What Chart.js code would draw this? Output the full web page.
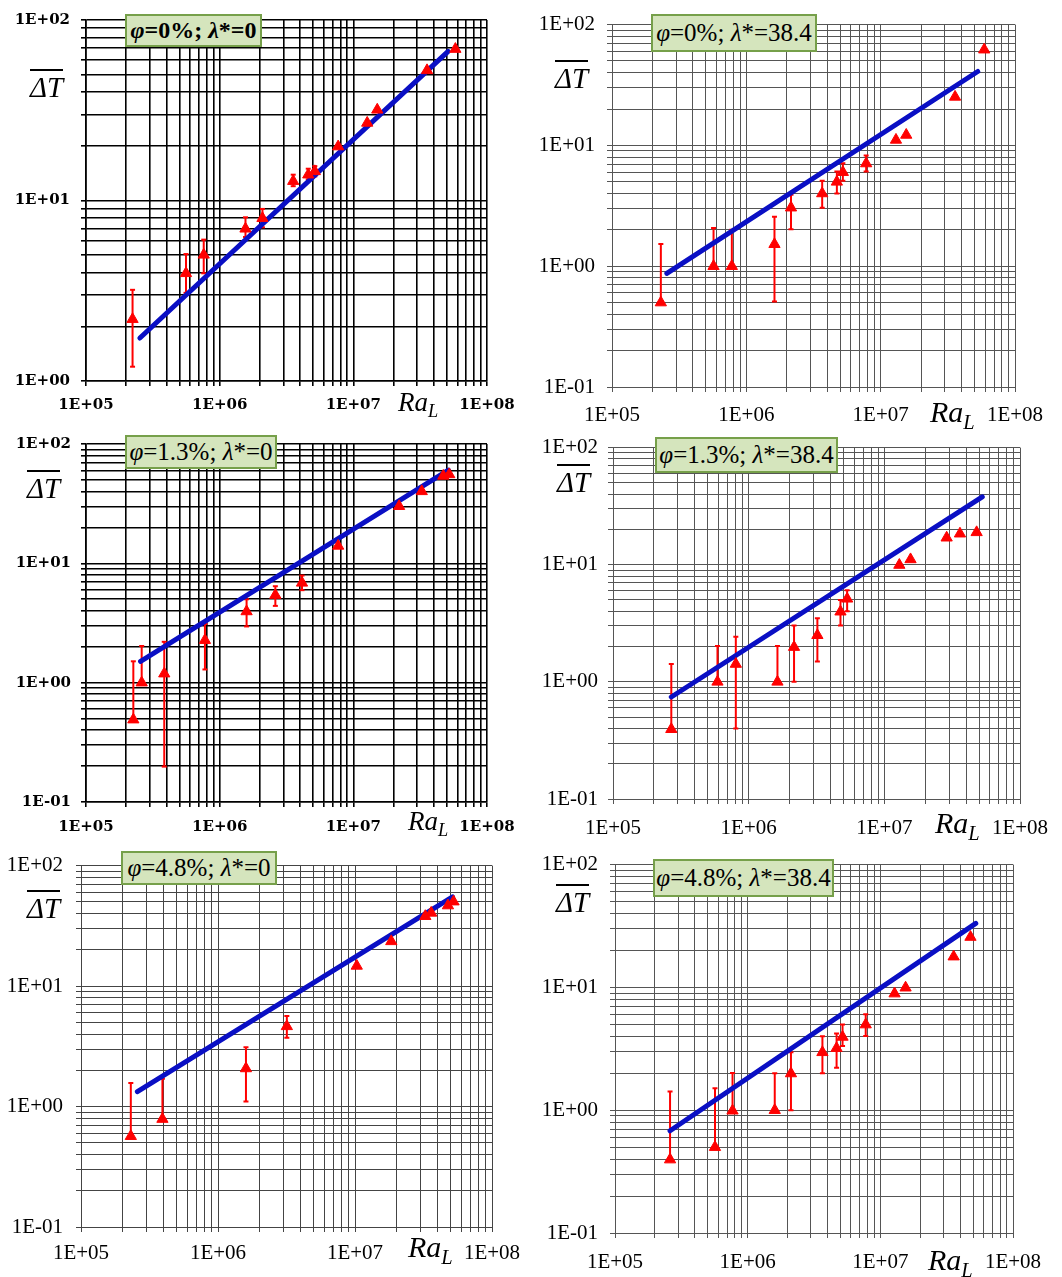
<!DOCTYPE html>
<html>
<head>
<meta charset="utf-8">
<title>Mean temperature difference vs Ra_L</title>
<script src="https://cdn.jsdelivr.net/npm/chart.js@4.4.1/dist/chart.umd.min.js"></script>
<style>
    body { margin: 0; background: #fff; }
    #page { position: relative; width: 1062px; height: 1277px; overflow: hidden; }
    #page canvas { position: absolute; }
    .tag {
        position: absolute; box-sizing: border-box;
        display: flex; align-items: center; justify-content: center;
        background: #d5e5bd; border: 2px solid #76a04a;
        font-family: 'Liberation Serif', serif; font-size: 25px; color: #000; white-space: nowrap;
    }
    .dt, .ra {
        position: absolute; height: 0; line-height: 0; white-space: nowrap;
        font-family: 'Liberation Serif', serif; font-style: italic; color: #000;
    }
    .dt span { border-top: 2px solid #000; }
    .ra sub { font-size: 0.68em; vertical-align: -0.35em; line-height: 0; }
</style>
</head>
<body>
<div id="page"></div>
<script>
// Axis decades and their labels
const xDecades = [1e5, 1e6, 1e7, 1e8];
const xTickLabels = ['1E+05', '1E+06', '1E+07', '1E+08'];
const yDecades = [0.1, 1, 10, 100];
const yTickLabels = ['1E-01', '1E+00', '1E+01', '1E+02'];

// Panel captions
const tagPhi = ['0%', '0%', '1.3%', '1.3%', '4.8%', '4.8%'];
const tagLambda = ['0', '38.4', '0', '38.4', '0', '38.4'];

// Panel 1: phi=0%, lambda*=0
const p1Ra = [2.23e5, 5.6e5, 7.6e5, 1.56e6, 2.09e6, 3.55e6, 4.6e6, 5.15e6, 7.7e6, 1.27e7, 1.51e7, 3.56e7, 5.8e7];
const p1T = [2.2, 3.95, 5.0, 6.97, 7.98, 12.8, 13.9, 14.5, 19.9, 26.9, 31.8, 52.6, 69];
const p1Lo = [1.2, 3.08, 3.95, 6.28, 7.1, 12.0, 13.1, 13.6, null, null, null, null, null];
const p1Hi = [3.2, 5.05, 6.07, 8.07, 8.98, 13.9, 15.0, 15.5, null, null, null, null, null];
const p1FitRa = [2.53e5, 5.12e7];
const p1FitT = [1.73, 67];

// Panel 2: phi=0%, lambda*=38.4
const p2Ra = [2.31e5, 5.7e5, 7.8e5, 1.62e6, 2.15e6, 3.67e6, 4.72e6, 5.23e6, 7.8e6, 1.3e7, 1.55e7, 3.58e7, 5.9e7];
const p2T = [0.5, 1.0, 1.0, 1.52, 3.05, 4.0, 4.99, 6.0, 7.08, 11.1, 12.2, 25.2, 62];
const p2Lo = [0.5, 1.0, 1.0, 0.51, 2.02, 3.05, 4.0, 5.1, 6.07, null, null, null, null];
const p2Hi = [1.53, 2.07, 2.0, 2.57, 3.9, 5.1, 6.07, 7.1, 8.26, null, null, null, null];
const p2FitRa = [2.56e5, 5.28e7];
const p2FitT = [0.873, 40.9];

// Panel 3: phi=1.3%, lambda*=0
const p3Ra = [2.26e5, 2.61e5, 3.85e5, 7.76e5, 1.59e6, 2.61e6, 4.13e6, 7.7e6, 2.2e7, 3.25e7, 4.71e7, 5.22e7];
const p3T = [0.49, 1.0, 1.19, 2.27, 3.95, 5.42, 6.86, 14.0, 30.1, 40.1, 54, 55.6];
const p3Lo = [0.49, 1.0, 0.198, 1.29, 2.96, 4.4, 5.96, null, null, null, null, null];
const p3Hi = [1.51, 2.03, 2.2, 3.1, 5.0, 6.43, 7.9, null, null, null, null, null];
const p3FitRa = [2.56e5, 5.14e7];
const p3FitT = [1.51, 60.4];

// Panel 4: phi=1.3%, lambda*=38.4
const p4Ra = [2.69e5, 5.89e5, 8.04e5, 1.63e6, 2.16e6, 3.21e6, 4.75e6, 5.32e6, 1.29e7, 1.56e7, 2.88e7, 3.61e7, 4.79e7];
const p4T = [0.394, 1.0, 1.42, 1.0, 1.98, 2.5, 3.97, 5.12, 9.94, 11.1, 17.0, 18.4, 18.9];
const p4Lo = [0.394, 1.0, 0.40, 1.0, 1.0, 1.49, 3.03, 4.0, null, null, null, null, null];
const p4Hi = [1.42, 2.02, 2.43, 2.02, 3.03, 3.5, 5.0, 6.07, null, null, null, null, null];
const p4FitRa = [2.69e5, 5.27e7];
const p4FitT = [0.743, 38.0];

// Panel 5: phi=4.8%, lambda*=0
const p5Ra = [2.31e5, 3.93e5, 1.6e6, 3.18e6, 1.03e7, 1.84e7, 3.26e7, 3.6e7, 4.77e7, 5.24e7];
const p5T = [0.567, 0.787, 2.07, 4.63, 14.7, 23.5, 38, 40.5, 46.6, 50.2];
const p5Lo = [0.567, 0.787, 1.1, 3.72, null, null, null, null, null, null];
const p5Hi = [1.57, 1.70, 3.1, 5.64, null, null, null, null, null, null];
const p5FitRa = [2.58e5, 5.15e7];
const p5FitT = [1.33, 55.1];

// Panel 6: phi=4.8%, lambda*=38.4
const p6Ra = [2.6e5, 5.67e5, 7.69e5, 1.6e6, 2.12e6, 3.66e6, 4.68e6, 5.19e6, 7.76e6, 1.28e7, 1.55e7, 3.57e7, 4.78e7];
const p6T = [0.396, 0.5, 0.99, 1.0, 1.99, 2.96, 3.2, 3.95, 4.98, 8.9, 9.94, 17.8, 25.7];
const p6Lo = [0.396, 0.5, 0.99, 1.0, 1.0, 2.0, 2.22, 3.34, 4.02, null, null, null, null];
const p6Hi = [1.42, 1.51, 2.01, 2.0, 2.96, 4.0, 4.22, 4.98, 6.05, null, null, null, null];
const p6FitRa = [2.6e5, 5.24e7];
const p6FitT = [0.68, 33.2];

const BOLD_FONT = { family: 'DejaVu Serif', weight: 'bold', size: 15 };
const PLAIN_FONT = { family: 'Liberation Serif', size: 21 };

// Layout: canvas box [left, top, w, h] and plot area [left, top, right, bottom] in page pixels
const panels = [
    { ra: p1Ra, t: p1T, lo: p1Lo, hi: p1Hi, fitRa: p1FitRa, fitT: p1FitT, yMin: 1,
      box: [0, 0, 530, 430], area: [86, 15, 487, 381], font: BOLD_FONT, yPad: 11, xPad: 10,
      grid: '#000', gridW: 1.6,
      tag: [125, 14, 137, 33, true], dtPos: [30, 97, 29], raPos: [398, 411, 27] },
    { ra: p2Ra, t: p2T, lo: p2Lo, hi: p2Hi, fitRa: p2FitRa, fitT: p2FitT, yMin: 0.1,
      box: [530, 0, 532, 430], area: [612, 13, 1015, 387], font: PLAIN_FONT, yPad: 12, xPad: 11,
      grid: '#555', gridW: 1,
      tag: [651, 14, 166, 38, false], dtPos: [555, 88, 29], raPos: [930, 422, 30] },
    { ra: p3Ra, t: p3T, lo: p3Lo, hi: p3Hi, fitRa: p3FitRa, fitT: p3FitT, yMin: 0.1,
      box: [0, 425, 530, 430], area: [86, 437, 487, 802], font: BOLD_FONT, yPad: 10, xPad: 11,
      grid: '#000', gridW: 1.6,
      tag: [125, 435, 152, 34, false], dtPos: [27, 498, 29], raPos: [408, 830, 27] },
    { ra: p4Ra, t: p4T, lo: p4Lo, hi: p4Hi, fitRa: p4FitRa, fitT: p4FitT, yMin: 0.1,
      box: [530, 425, 532, 430], area: [613, 435, 1020, 799], font: PLAIN_FONT, yPad: 10, xPad: 12,
      grid: '#555', gridW: 1,
      tag: [655, 437, 183, 36, false], dtPos: [557, 492, 29], raPos: [935, 833, 30] },
    { ra: p5Ra, t: p5T, lo: p5Lo, hi: p5Hi, fitRa: p5FitRa, fitT: p5FitT, yMin: 0.1,
      box: [0, 840, 530, 437], area: [81, 853, 492, 1227], font: PLAIN_FONT, yPad: 13, xPad: 9,
      grid: '#444', gridW: 1,
      tag: [121, 851, 156, 34, false], dtPos: [27, 918, 29], raPos: [408, 1257, 30] },
    { ra: p6Ra, t: p6T, lo: p6Lo, hi: p6Hi, fitRa: p6FitRa, fitT: p6FitT, yMin: 0.1,
      box: [530, 840, 532, 437], area: [615, 857, 1013, 1233], font: PLAIN_FONT, yPad: 12, xPad: 12,
      grid: '#555', gridW: 1,
      tag: [653, 859, 181, 38, false], dtPos: [556, 912, 29], raPos: [928, 1270, 30] }
];

// All 1..9 multiples of each decade between min and max
function logTicks(decades, min) {
    const ticks = [];
    decades.forEach((d, i) => {
        if (d < min) return;
        if (i === decades.length - 1) { ticks.push({ value: d }); return; }
        for (let k = 1; k <= 9; k++) ticks.push({ value: d * k });
    });
    return ticks;
}

// Vertical error segments, separated by gaps
function errorPoints(ra, lo, hi) {
    const pts = [];
    ra.forEach((x, i) => {
        if (lo[i] == null) return;
        pts.push({ x: x, y: lo[i] }, { x: x, y: hi[i] }, { x: x, y: null });
    });
    return pts;
}

const page = document.getElementById('page');

panels.forEach((p, n) => {
    const [bx, by, bw, bh] = p.box;
    const [al, at, ar, ab] = p.area;

    const canvas = document.createElement('canvas');
    canvas.width = bw;
    canvas.height = bh;
    canvas.style.left = bx + 'px';
    canvas.style.top = by + 'px';
    page.appendChild(canvas);

    const gridOpts = { color: p.grid, lineWidth: p.gridW, tickLength: 5, tickColor: p.grid, tickWidth: p.gridW };
    const borderOpts = { color: p.grid, width: p.gridW };

    new Chart(canvas, {
        type: 'line',
        data: {
            datasets: [
                {
                    data: p.ra.map((x, i) => ({ x: x, y: p.t[i] })),
                    showLine: false,
                    pointStyle: 'triangle',
                    pointRadius: 6.5,
                    pointBackgroundColor: '#ff0000',
                    pointBorderColor: '#ff0000',
                    pointBorderWidth: 1,
                    order: 0
                },
                {
                    data: p.fitRa.map((x, i) => ({ x: x, y: p.fitT[i] })),
                    borderColor: '#0a0fc4',
                    borderWidth: 5,
                    borderCapStyle: 'round',
                    pointRadius: 0,
                    order: 1
                },
                {
                    data: errorPoints(p.ra, p.lo, p.hi),
                    borderColor: '#ff0000',
                    borderWidth: 2,
                    pointStyle: 'line',
                    pointRadius: 2.5,
                    pointBorderColor: '#ff0000',
                    pointBorderWidth: 2,
                    spanGaps: false,
                    order: 2
                }
            ]
        },
        options: {
            responsive: false,
            animation: false,
            devicePixelRatio: 1,
            events: [],
            layout: { padding: { left: 0, top: at - by, right: bx + bw - ar, bottom: 0 } },
            plugins: { legend: { display: false }, tooltip: { enabled: false } },
            scales: {
                x: {
                    type: 'logarithmic',
                    min: xDecades[0],
                    max: xDecades[xDecades.length - 1],
                    afterBuildTicks: s => { s.ticks = logTicks(xDecades, xDecades[0]); },
                    afterFit: s => { s.height = by + bh - ab; },
                    grid: gridOpts,
                    border: borderOpts,
                    ticks: {
                        autoSkip: false,
                        maxRotation: 0,
                        padding: p.xPad,
                        color: '#000',
                        font: p.font,
                        callback: v => {
                            const k = xDecades.indexOf(v);
                            return k >= 0 ? xTickLabels[k] : '';
                        }
                    }
                },
                y: {
                    type: 'logarithmic',
                    min: p.yMin,
                    max: yDecades[yDecades.length - 1],
                    afterBuildTicks: s => { s.ticks = logTicks(yDecades, p.yMin); },
                    afterFit: s => { s.width = al - bx; },
                    grid: gridOpts,
                    border: borderOpts,
                    ticks: {
                        autoSkip: false,
                        padding: p.yPad,
                        color: '#000',
                        font: p.font,
                        callback: v => {
                            const k = yDecades.indexOf(v);
                            return k >= 0 ? yTickLabels[k] : '';
                        }
                    }
                }
            }
        }
    });

    // Caption box
    const [tx, ty, tw, th, tb] = p.tag;
    const tag = document.createElement('div');
    tag.className = 'tag';
    tag.style.left = tx + 'px';
    tag.style.top = ty + 'px';
    tag.style.width = tw + 'px';
    tag.style.height = th + 'px';
    if (tb) { tag.style.fontWeight = 'bold'; tag.style.fontSize = '24px'; }
    tag.innerHTML = '<span><i>φ</i>=' + tagPhi[n] + '; <i>λ</i>*=' + tagLambda[n] + '</span>';
    page.appendChild(tag);

    // Axis titles (baseline placed via line-height 0)
    const [dx, dbase, dfs] = p.dtPos;
    const dt = document.createElement('div');
    dt.className = 'dt';
    dt.style.fontSize = dfs + 'px';
    dt.style.left = dx + 'px';
    dt.style.top = (dbase - 0.3375 * dfs) + 'px';
    dt.innerHTML = '<span>ΔT</span>';
    page.appendChild(dt);

    const [rx, rbase, rfs] = p.raPos;
    const ra = document.createElement('div');
    ra.className = 'ra';
    ra.style.fontSize = rfs + 'px';
    ra.style.left = rx + 'px';
    ra.style.top = (rbase - 0.3375 * rfs) + 'px';
    ra.innerHTML = 'Ra<sub>L</sub>';
    page.appendChild(ra);
});
</script>
</body>
</html>
